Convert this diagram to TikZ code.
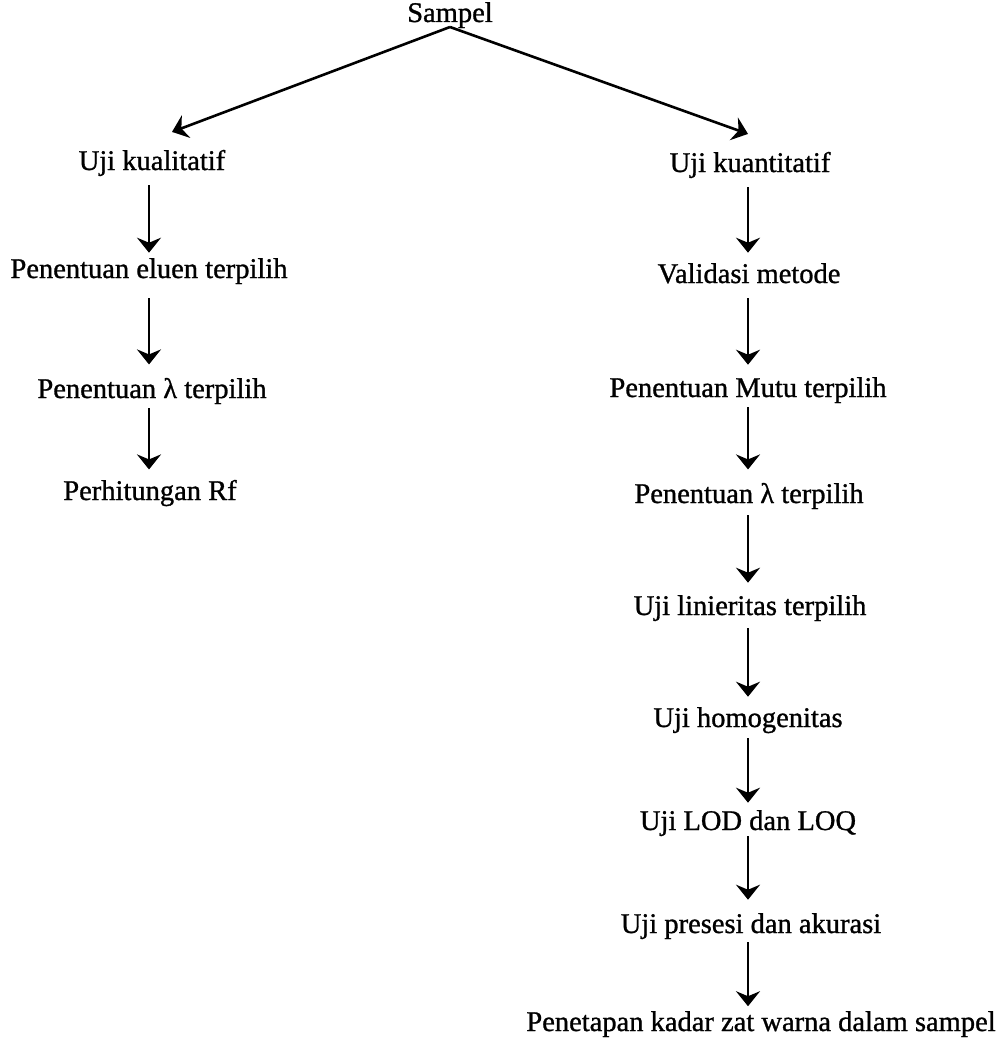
\documentclass[tikz,border=0pt]{standalone}
\usepackage{fontspec}
\setmainfont[FakeBold=1.0]{Liberation Serif}
\usetikzlibrary{arrows.meta,calc}
\begin{document}
\begin{tikzpicture}[x=1pt,y=-1pt,
  lbl/.style={anchor=base,inner sep=0pt,outer sep=0pt,font=\fontsize{28.5}{34}\selectfont},
  arr/.style={line width=2.4pt,-{Stealth[length=15pt,width=24pt,inset=5pt]}}]
\useasboundingbox (0,0) rectangle (998,1038);
\coordinate (cL) at (149,0);
\coordinate (cR) at (748,0);
% nodes
\node[lbl] (sampel) at (450,22) {Sampel};
\node[lbl] (ukual) at (152,170) {Uji kualitatif};
\node[lbl] (ukuan) at (750,172) {Uji kuantitatif};
\node[lbl] (eluen) at (149,278) {Penentuan eluen terpilih};
\node[lbl] (lamL) at (152,398) {Penentuan λ terpilih};
\node[lbl] (rf) at (150,500) {Perhitungan Rf};
\node[lbl] (valid) at (749,283) {Validasi metode};
\node[lbl] (mutu) at (748,397) {Penentuan Mutu terpilih};
\node[lbl] (lamR) at (749,503) {Penentuan λ terpilih};
\node[lbl] (lin) at (750,615) {Uji linieritas terpilih};
\node[lbl] (homo) at (748,727) {Uji homogenitas};
\node[lbl] (lod) at (748,830) {Uji LOD dan LOQ};
\node[lbl] (pres) at (751,933) {Uji presesi dan akurasi};
\node[lbl] (pen) at (761,1031) {Penetapan kadar zat warna dalam sampel};
% diagonal arrows
\coordinate (apex) at ($(sampel.base)+(0,5)$);
\coordinate (tipL) at ($(ukual.north)+(20,-18)$);
\coordinate (tipR) at ($(ukuan.north)+(-2,-18)$);
\draw[arr,line width=2.6pt] (apex) -- (tipL);
\draw[arr,line width=2.6pt] (apex) -- (tipR);
% left column
\draw[arr,shorten <=9pt,shorten >=5.5pt] (ukual.south -| cL) -- (eluen.north -| cL);
\draw[arr,shorten <=14pt,shorten >=13.5pt] (eluen.south -| cL) -- (lamL.north -| cL);
\draw[arr,shorten <=4pt,shorten >=10.5pt] (lamL.south -| cL) -- (rf.north -| cL);
% right column
\draw[arr,shorten <=9pt,shorten >=10.5pt] (ukuan.south -| cR) -- (valid.north -| cR);
\draw[arr,shorten <=15pt,shorten >=12.5pt] (valid.south -| cR) -- (mutu.north -| cR);
\draw[arr,shorten <=4pt,shorten >=13.5pt] (mutu.south -| cR) -- (lamR.north -| cR);
\draw[arr,shorten <=6pt,shorten >=12.5pt] (lamR.south -| cR) -- (lin.north -| cR);
\draw[arr,shorten <=7pt,shorten >=10.5pt] (lin.south -| cR) -- (homo.north -| cR);
\draw[arr,shorten <=5pt,shorten >=7.5pt] (homo.south -| cR) -- (lod.north -| cR);
\draw[arr,shorten <=0pt,shorten >=13.5pt] (lod.south -| cR) -- (pres.north -| cR);
\draw[arr,shorten <=3pt,shorten >=5pt] (pres.south -| cR) -- (pen.north -| cR);
\end{tikzpicture}
\end{document}
